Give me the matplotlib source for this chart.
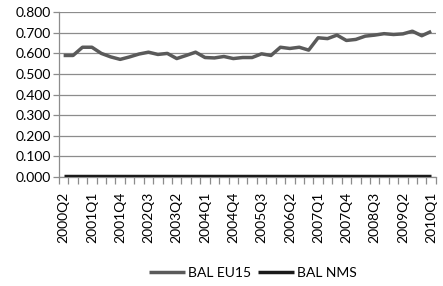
import matplotlib
matplotlib.use("Agg")
import matplotlib.pyplot as plt
import numpy as np

quarters = [f"{y}Q{q}" for y in range(2000, 2011) for q in range(1, 5)]
quarters = quarters[quarters.index("2000Q2"):quarters.index("2010Q1") + 1]

bal_eu15 = [0.590, 0.590, 0.630, 0.630, 0.600, 0.583, 0.571, 0.583, 0.597, 0.606,
            0.595, 0.600, 0.575, 0.590, 0.606, 0.580, 0.578, 0.585, 0.575, 0.580,
            0.580, 0.598, 0.590, 0.630, 0.624, 0.630, 0.616, 0.676, 0.672, 0.689,
            0.663, 0.668, 0.684, 0.689, 0.696, 0.692, 0.695, 0.708, 0.686, 0.707]
bal_nms = [0.003] * 40

plt.rcParams['font.family'] = ['Lato', 'DejaVu Sans']

fig = plt.figure(figsize=(4.43, 2.86), dpi=100)
ax = fig.add_axes([0.133, 0.382, 0.851, 0.575])

x = np.arange(len(quarters))
ax.plot(x, bal_eu15, color="#5a5a5a", lw=2.5, label="BAL EU15", solid_capstyle="butt", zorder=3)
ax.plot(x, bal_nms, color="#1a1a1a", lw=2.5, label="BAL NMS", solid_capstyle="butt", zorder=3)

ax.set_xlim(-0.5, len(quarters) - 0.5)
ax.set_ylim(0, 0.8)
ax.set_yticks(np.arange(0, 0.81, 0.1))
ax.set_yticklabels([f"{v:.3f}" for v in np.arange(0, 0.81, 0.1)], fontsize=10)
ax.yaxis.grid(True, color="#8c8c8c", lw=0.9)
ax.set_axisbelow(True)

major = x[::3]
ax.set_xticks(major)
ax.set_xticklabels([quarters[i] for i in major], rotation=90, fontsize=10)
ax.set_xticks(np.arange(-0.5, len(quarters), 1.0), minor=True)
ax.tick_params(axis="x", which="major", length=0, pad=11)
ax.tick_params(axis="x", which="minor", length=5, color="#8c8c8c", width=0.9)
ax.tick_params(axis="y", length=4, color="#8c8c8c", width=0.9, pad=2)

for s in ["top", "right"]:
    ax.spines[s].set_visible(False)
ax.spines["left"].set_color("#8c8c8c")
ax.spines["bottom"].set_color("#8c8c8c")
ax.spines["left"].set_linewidth(0.9)
ax.spines["bottom"].set_linewidth(0.9)

fig.legend(loc="center", bbox_to_anchor=(0.57, 0.045), ncol=2, frameon=False,
           fontsize=10, handlelength=2.6, handletextpad=0.2, columnspacing=0.5)

fig.savefig("out.png", dpi=100)
